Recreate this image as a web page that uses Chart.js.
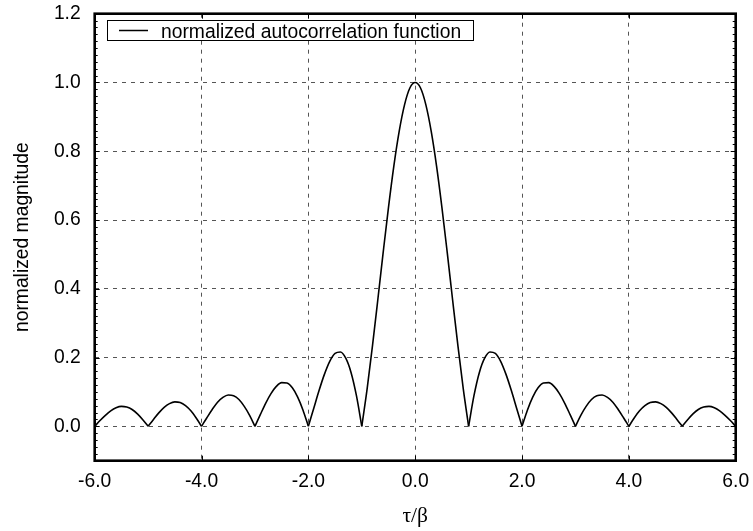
<!DOCTYPE html>
<html>
<head>
<meta charset="utf-8">
<title>normalized autocorrelation function</title>
<script src="https://cdn.jsdelivr.net/npm/chart.js@4.4.1/dist/chart.umd.min.js"></script>
<style>
  html, body { margin: 0; padding: 0; background: #fff; }
  #wrap { width: 753px; height: 531px; }
</style>
</head>
<body>
<div id="wrap"><canvas id="acf" width="753" height="531"></canvas></div>
<script>
// tau/beta samples (x axis)
const tau = [
  -6.0, -5.9, -5.8, -5.7, -5.6, -5.5, -5.4, -5.3, -5.2, -5.1,
  -5.0, -4.9, -4.8, -4.7, -4.6, -4.5, -4.4, -4.3, -4.2, -4.1,
  -4.0, -3.9, -3.8, -3.7, -3.6, -3.5, -3.4, -3.3, -3.2, -3.1,
  -3.0, -2.9, -2.8, -2.7, -2.6, -2.5, -2.4, -2.3, -2.2, -2.1,
  -2.0, -1.9, -1.8, -1.7, -1.6, -1.5, -1.4, -1.3, -1.2, -1.1,
  -1.0, -0.9, -0.8, -0.7, -0.6, -0.5, -0.4, -0.3, -0.2, -0.1,
  0.0,
  0.1, 0.2, 0.3, 0.4, 0.5, 0.6, 0.7, 0.8, 0.9, 1.0,
  1.1, 1.2, 1.3, 1.4, 1.5, 1.6, 1.7, 1.8, 1.9, 2.0,
  2.1, 2.2, 2.3, 2.4, 2.5, 2.6, 2.7, 2.8, 2.9, 3.0,
  3.1, 3.2, 3.3, 3.4, 3.5, 3.6, 3.7, 3.8, 3.9, 4.0,
  4.1, 4.2, 4.3, 4.4, 4.5, 4.6, 4.7, 4.8, 4.9, 5.0,
  5.1, 5.2, 5.3, 5.4, 5.5, 5.6, 5.7, 5.8, 5.9, 6.0
];

// normalized magnitude
const magnitude = [
  0.000, 0.017, 0.032, 0.045, 0.054, 0.058, 0.056, 0.049, 0.036, 0.019,
  0.000, 0.020, 0.039, 0.055, 0.066, 0.071, 0.069, 0.060, 0.045, 0.024,
  0.000, 0.025, 0.049, 0.070, 0.084, 0.091, 0.089, 0.078, 0.058, 0.032,
  0.000, 0.034, 0.067, 0.095, 0.116, 0.127, 0.126, 0.112, 0.085, 0.047,
  0.000, 0.052, 0.104, 0.151, 0.189, 0.212, 0.216, 0.198, 0.156, 0.089,
  0.000, 0.109, 0.234, 0.368, 0.505, 0.637, 0.757, 0.858, 0.935, 0.984,
  1.000,
  0.984, 0.935, 0.858, 0.757, 0.637, 0.505, 0.368, 0.234, 0.109, 0.000,
  0.089, 0.156, 0.198, 0.216, 0.212, 0.189, 0.151, 0.104, 0.052, 0.000,
  0.047, 0.085, 0.112, 0.126, 0.127, 0.116, 0.095, 0.067, 0.034, 0.000,
  0.032, 0.058, 0.078, 0.089, 0.091, 0.084, 0.070, 0.049, 0.025, 0.000,
  0.024, 0.045, 0.060, 0.069, 0.071, 0.066, 0.055, 0.039, 0.020, 0.000,
  0.019, 0.036, 0.049, 0.056, 0.058, 0.054, 0.045, 0.032, 0.017, 0.000
];

const xTicks = [-6, -4, -2, 0, 2, 4, 6];
const yTicks = [0, 0.2, 0.4, 0.6, 0.8, 1.0, 1.2];
const seriesLabel = 'normalized autocorrelation function';

const SANS = '"Liberation Sans", Arial, Helvetica, sans-serif';
const FONT_SIZE = 19.3;

// frame, inward ticks and boxed legend (gnuplot look)
const framePlugin = {
  id: 'frame',
  afterDraw(chart) {
    const { ctx, chartArea: a, scales: { x, y } } = chart;
    ctx.save();
    ctx.setLineDash([]);
    ctx.strokeStyle = '#000';

    ctx.lineWidth = 1;
    ctx.beginPath();
    for (let k = -4; k <= 59; k++) {
      const py = Math.round(y.getPixelForValue(k * 0.02)) + 0.5;
      const len = k % 10 === 0 ? 5 : 3;
      ctx.moveTo(a.left, py); ctx.lineTo(a.left + len, py);
      ctx.moveTo(a.right, py); ctx.lineTo(a.right - len, py);
    }
    xTicks.forEach(v => {
      const px = Math.round(x.getPixelForValue(v)) + 0.5;
      ctx.moveTo(px, a.top); ctx.lineTo(px, a.top + 5);
      ctx.moveTo(px, a.bottom); ctx.lineTo(px, a.bottom - 5);
    });
    ctx.stroke();

    ctx.lineWidth = 2.6;
    ctx.strokeRect(a.left, a.top, a.right - a.left, a.bottom - a.top);

    // legend box
    const lx = Math.round(a.left + 12), ly = Math.round(a.top + 6), lh = 20;
    ctx.font = FONT_SIZE + 'px ' + SANS;
    const textX = lx + 54;
    const w = Math.round(textX - lx + ctx.measureText(seriesLabel).width + 12);
    ctx.fillStyle = '#fff';
    ctx.fillRect(lx, ly, w, lh);
    ctx.lineWidth = 1;
    ctx.strokeRect(lx + 0.5, ly + 0.5, w, lh);
    ctx.lineWidth = 1.5;
    ctx.beginPath();
    ctx.moveTo(lx + 12, ly + 10.5);
    ctx.lineTo(lx + 41, ly + 10.5);
    ctx.stroke();
    ctx.fillStyle = '#000';
    ctx.textBaseline = 'alphabetic';
    ctx.textAlign = 'left';
    ctx.fillText(seriesLabel, textX, ly + 17.5);
    ctx.restore();
  }
};

// one dataset per lobe so the nulls stay sharp and the lobe tops stay round
const lobes = [];
let start = 0;
magnitude.forEach((m, i) => {
  if (i > 0 && m === 0) {
    const pts = [];
    for (let j = start; j <= i; j++) pts.push({ x: tau[j], y: magnitude[j] });
    lobes.push(pts);
    start = i;
  }
});

new Chart(document.getElementById('acf'), {
  type: 'line',
  data: {
    datasets: lobes.map(pts => ({
      label: seriesLabel,
      data: pts,
      borderColor: '#000',
      borderWidth: 1.6,
      pointRadius: 0,
      cubicInterpolationMode: 'monotone',
      fill: false
    }))
  },
  options: {
    responsive: false,
    animation: false,
    devicePixelRatio: 1,
    layout: { padding: { top: 13.7, right: 17.3, left: 0, bottom: 0 } },
    plugins: {
      legend: { display: false },
      tooltip: { enabled: false }
    },
    scales: {
      x: {
        type: 'linear',
        min: -6,
        max: 6,
        afterBuildTicks: s => { s.ticks = xTicks.map(v => ({ value: v })); },
        afterFit: s => { s.height = 70.3; s.paddingLeft = 0; s.paddingRight = 0; },
        ticks: {
          callback: v => Number(v).toFixed(1),
          font: { family: SANS, size: FONT_SIZE },
          color: '#000',
          padding: 9,
          maxRotation: 0,
          autoSkip: false
        },
        grid: { color: '#555', lineWidth: 1, drawTicks: false },
        border: { display: false, dash: [4, 5] },
        title: {
          display: true,
          text: 'τ/β',
          color: '#000',
          font: { family: '"Liberation Serif", "DejaVu Serif", serif', size: 21.5 },
          padding: { top: 0, bottom: 2 }
        }
      },
      y: {
        type: 'linear',
        min: -0.1,
        max: 1.2,
        afterBuildTicks: s => { s.ticks = yTicks.map(v => ({ value: v })); },
        afterFit: s => { s.width = 94.7; s.paddingTop = 0; s.paddingBottom = 0; },
        ticks: {
          callback: v => Number(v).toFixed(1),
          font: { family: SANS, size: FONT_SIZE },
          color: '#000',
          padding: 14
        },
        grid: { color: '#555', lineWidth: 1, drawTicks: false },
        border: { display: false, dash: [4, 5] },
        title: {
          display: true,
          text: 'normalized magnitude',
          color: '#000',
          font: { family: SANS, size: FONT_SIZE },
          padding: { top: 11, bottom: 0 }
        }
      }
    }
  },
  plugins: [framePlugin]
});
</script>
</body>
</html>
